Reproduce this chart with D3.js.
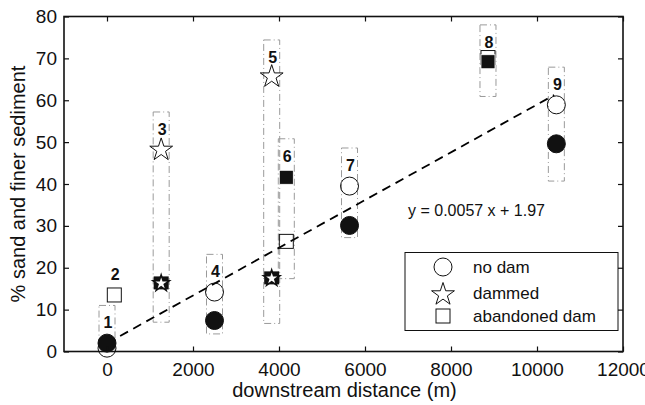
<!DOCTYPE html>
<html>
<head>
<meta charset="utf-8">
<script src="https://cdn.jsdelivr.net/npm/d3@7"></script>
<style>
  html, body { margin: 0; padding: 0; background: #fff; }
  svg { display: block; font-family: "Liberation Sans", Arial, Helvetica, sans-serif; }
</style>
</head>
<body>
<svg id="chart" width="645" height="405"></svg>
<script>
// ---------------- data ----------------
const sites        = [1, 2, 3, 4, 5, 6, 7, 8, 9];
const distance     = [0, 170, 1260, 2500, 3830, 4170, 5640, 8860, 10450];
// no dam (circles)
const noDamOpen    = [0.8, null, null, 14.2, null, null, 39.5, null, 58.9];
const noDamFilled  = [2.0, null, null, 7.4, null, null, 30.1, null, 49.6];
// dammed (stars)
const dammedOpen   = [null, null, 48.5, null, 66.0, null, null, null, null];
const dammedFilled = [null, null, 16.5, null, 17.7, null, null, null, null];
// abandoned dam (squares)
const abandOpen    = [null, 13.5, null, null, null, 26.3, null, 70.2, null];
const abandFilled  = [null, null, null, null, null, 41.6, null, 69.2, null];
// range boxes (dash-dot)
const rangeMin     = [0, null, 7.0, 4.2, 6.7, 17.4, 27.2, 60.9, 40.7];
const rangeMax     = [11.0, null, 57.2, 23.2, 74.4, 50.8, 48.6, 78.0, 67.9];
// regression
const slope = 0.0057, intercept = 1.97;
const fitRange = [0, 10400];
const eqText = "y = 0.0057 x + 1.97";
const eqPos = [7000, 32.4];
// axes
const xTicks = [0, 2000, 4000, 6000, 8000, 10000, 12000];
const yTicks = [0, 10, 20, 30, 40, 50, 60, 70, 80];
const xDomain = [-1000, 12000];
const yDomain = [0, 80];
const xTitle = "downstream distance (m)";
const yTitle = "% sand and finer sediment";
const legendLabels = ["no dam", "dammed", "abandoned dam"];

// ---------------- layout ----------------
const L = 64, R = 623, T = 16.5, B = 351.5;
const svg = d3.select("#chart");
const x = d3.scaleLinear().domain(xDomain).range([L, R]);
const y = d3.scaleLinear().domain(yDomain).range([B, T]);

function starPath(R0) {
  const r0 = R0 * 0.382;
  const pts = [];
  for (let i = 0; i < 10; i++) {
    const a = -Math.PI / 2 + i * Math.PI / 5;
    const rr = i % 2 === 0 ? R0 : r0;
    pts.push([rr * Math.cos(a), rr * Math.sin(a)]);
  }
  return "M" + pts.map(p => p[0].toFixed(2) + "," + p[1].toFixed(2)).join("L") + "Z";
}

const plot = svg.append("g");

// range boxes
const boxHalf = 8;
const boxes = sites.map((s, i) => ({i, d: distance[i], lo: rangeMin[i], hi: rangeMax[i]}))
  .filter(b => b.lo !== null);
plot.selectAll("rect.range").data(boxes).enter().append("rect")
  .attr("class", "range")
  .attr("x", b => x(b.d) - boxHalf)
  .attr("y", b => y(b.hi))
  .attr("width", boxHalf * 2)
  .attr("height", b => y(b.lo) - y(b.hi))
  .attr("fill", "none")
  .attr("stroke", "#9a9a9a")
  .attr("stroke-width", 1)
  .attr("stroke-dasharray", "7,3,1,3");

// regression line
const line = d3.line().x(d => x(d)).y(d => y(slope * d + intercept));
plot.append("path")
  .attr("d", line(fitRange))
  .attr("fill", "none")
  .attr("stroke", "#000")
  .attr("stroke-width", 1.8)
  .attr("stroke-dasharray", "9,6");

// markers
function pts(vals) {
  return sites.map((s, i) => ({d: distance[i], v: vals[i]})).filter(p => p.v !== null);
}
function drawCircles(vals, filled) {
  plot.selectAll(null).data(pts(vals)).enter().append("circle")
    .attr("cx", p => x(p.d)).attr("cy", p => y(p.v)).attr("r", 9)
    .attr("fill", filled ? "#111" : "none")
    .attr("stroke", "#111").attr("stroke-width", 1);
}
function drawSquares(vals, filled) {
  plot.selectAll(null).data(pts(vals)).enter().append("rect")
    .attr("x", p => x(p.d) - 7).attr("y", p => y(p.v) - 7)
    .attr("width", 14).attr("height", 14)
    .attr("fill", filled ? "#111" : "none")
    .attr("stroke", filled ? "#fff" : "#111").attr("stroke-width", filled ? 0.8 : 1);
}
function drawStarsOpen(vals) {
  plot.selectAll(null).data(pts(vals)).enter().append("path")
    .attr("transform", p => `translate(${x(p.d)},${y(p.v) + 1.5})`)
    .attr("d", starPath(12))
    .attr("fill", "none").attr("stroke", "#111").attr("stroke-width", 1);
}
function drawStarsFilled(vals) {
  const g = plot.selectAll(null).data(pts(vals)).enter().append("g")
    .attr("transform", p => `translate(${x(p.d)},${y(p.v)})`);
  g.append("rect").attr("x", -7.5).attr("y", -6).attr("width", 15).attr("height", 13).attr("fill", "#111");
  g.append("path").attr("d", starPath(8.5)).attr("transform", "translate(0,1)")
    .attr("fill", "#fff").attr("stroke", "#111").attr("stroke-width", 1.6);
}
drawCircles(noDamOpen, false);
drawCircles(noDamFilled, true);
drawSquares(abandOpen, false);
drawSquares(abandFilled, true);
drawStarsOpen(dammedOpen);
drawStarsFilled(dammedFilled);

// site number labels
plot.selectAll("text.site").data(sites).enter().append("text")
  .attr("class", "site")
  .attr("x", (s, i) => x(distance[i]) + 1)
  .attr("y", (s, i) => rangeMax[i] !== null ? y(rangeMax[i]) + 23 : y(abandOpen[i]) - 15)
  .attr("text-anchor", "middle")
  .attr("font-size", 16).attr("font-weight", "bold").attr("fill", "#111")
  .text(s => s);

// equation
plot.append("text")
  .attr("x", x(eqPos[0])).attr("y", y(eqPos[1]))
  .attr("font-size", 16).attr("fill", "#111")
  .text(eqText);

// axes frame and ticks
const tick = 5;
const fmt = d3.format("d");
const axB = svg.append("g").attr("transform", `translate(0,${B})`)
  .call(d3.axisBottom(x).tickValues(xTicks).tickFormat(fmt).tickSizeInner(-tick).tickSizeOuter(0).tickPadding(11));
const axT = svg.append("g").attr("transform", `translate(0,${T})`)
  .call(d3.axisTop(x).tickValues(xTicks).tickSizeInner(-tick).tickSizeOuter(0).tickFormat(""));
const axL = svg.append("g").attr("transform", `translate(${L},0)`)
  .call(d3.axisLeft(y).tickValues(yTicks).tickFormat(fmt).tickSizeInner(-tick).tickSizeOuter(0).tickPadding(7));
const axR = svg.append("g").attr("transform", `translate(${R},0)`)
  .call(d3.axisRight(y).tickValues(yTicks).tickSizeInner(-tick).tickSizeOuter(0).tickFormat(""));
[axB, axT, axL, axR].forEach(a => {
  a.select(".domain").remove();
  a.selectAll(".tick line").attr("stroke", "#111").attr("stroke-width", 1.2);
  a.selectAll("text").attr("font-size", 19).attr("fill", "#111")
    .attr("font-family", "'Liberation Sans', Arial, sans-serif");
});
svg.append("rect").attr("x", L).attr("y", T).attr("width", R - L).attr("height", B - T)
  .attr("fill", "none").attr("stroke", "#111").attr("stroke-width", 1.6);

// axis titles
svg.append("text").attr("x", (L + R) / 2 + 1).attr("y", 397)
  .attr("text-anchor", "middle").attr("font-size", 20).attr("fill", "#111").text(xTitle);
svg.append("text").attr("transform", `translate(25,${(T + B) / 2}) rotate(-90)`)
  .attr("text-anchor", "middle").attr("font-size", 20).attr("fill", "#111").text(yTitle);

// legend
const lg = svg.append("g");
lg.append("rect").attr("x", 405).attr("y", 252.5).attr("width", 213).attr("height", 78)
  .attr("fill", "#fff").attr("stroke", "#111").attr("stroke-width", 1);
const lx = 443, ly = [267, 293, 316];
lg.append("circle").attr("cx", lx).attr("cy", ly[0]).attr("r", 9)
  .attr("fill", "none").attr("stroke", "#111").attr("stroke-width", 1);
lg.append("path").attr("d", starPath(12)).attr("transform", `translate(${lx},${ly[1] + 1.5})`)
  .attr("fill", "none").attr("stroke", "#111").attr("stroke-width", 1);
lg.append("rect").attr("x", lx - 7).attr("y", ly[2] - 7).attr("width", 14).attr("height", 14)
  .attr("fill", "none").attr("stroke", "#111").attr("stroke-width", 1);
lg.selectAll("text.lab").data(legendLabels).enter().append("text")
  .attr("class", "lab")
  .attr("x", 473).attr("y", (d, i) => ly[i] + 6)
  .attr("font-size", 17).attr("fill", "#111").text(d => d);
</script>
</body>
</html>
